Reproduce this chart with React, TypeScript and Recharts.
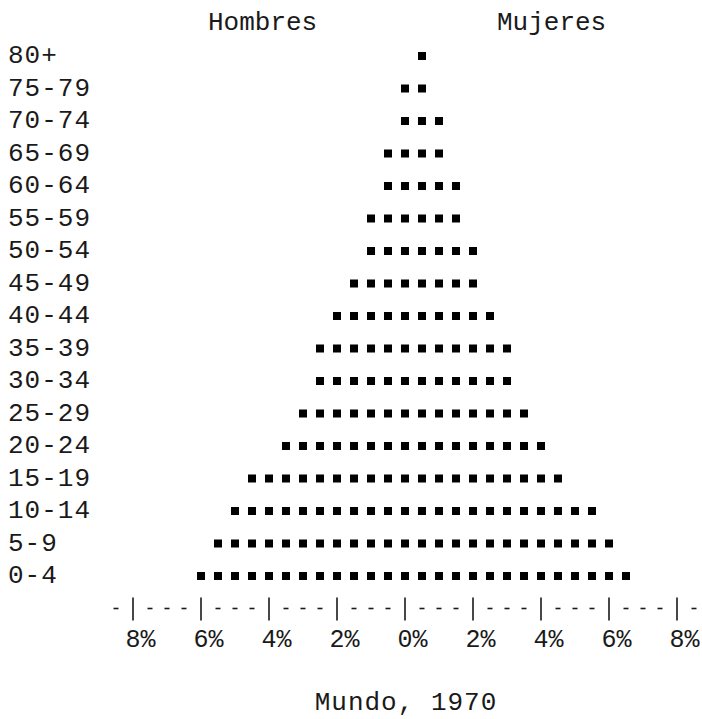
import { ScatterChart, Scatter, XAxis, YAxis } from "recharts";

// Pirámide de población, Mundo 1970 (% del total, cada cuadro = 0.5%)
const edades = [
  "0-4", "5-9", "10-14", "15-19", "20-24", "25-29", "30-34", "35-39", "40-44",
  "45-49", "50-54", "55-59", "60-64", "65-69", "70-74", "75-79", "80+",
];
const hombres = [6.5, 6.0, 5.5, 5.0, 4.0, 3.5, 3.0, 3.0, 2.5, 2.0, 1.5, 1.5, 1.0, 1.0, 0.5, 0.5, 0];
const mujeres = [6.5, 6.0, 5.5, 4.5, 4.0, 3.5, 3.0, 3.0, 2.5, 2.0, 2.0, 1.5, 1.5, 1.0, 1.0, 0.5, 0.5];
const marcasX = [-8, -6, -4, -2, 0, 2, 4, 6, 8];
const PASO = 0.5;

const FUENTE = "'Liberation Mono', 'Courier New', monospace";
const TINTA = "#1a1a1a";

// un cuadro por cada 0.5%: hombres desde la columna 0 hacia la izquierda, mujeres desde la 1 a la derecha
const puntosH = edades.flatMap((edad, i) =>
  Array.from({ length: Math.round(hombres[i] / PASO) }, (_, k) => ({ x: -k * PASO, y: i, edad }))
);
const puntosM = edades.flatMap((edad, i) =>
  Array.from({ length: Math.round(mujeres[i] / PASO) }, (_, k) => ({ x: (k + 1) * PASO, y: i, edad }))
);

// columnas del eje tipo máquina de escribir: "-|---|---|...|-"
const columnasEje = Array.from({ length: 35 }, (_, j) => -8.5 + j * PASO);

const Cuadro = (props: any) => {
  const { cx, cy } = props;
  if (cx == null || cy == null) return <g />;
  return <rect x={cx - 4} y={cy - 4} width={8} height={8} fill="#000" />;
};

const TickX = (props: any) => {
  const x = Number(props.x);
  const y = Number(props.y);
  const v = props.payload?.value;
  const mayor = marcasX.includes(v);
  return (
    <g>
      {mayor ? (
        <line x1={x} x2={x} y1={y - 11} y2={y + 12} stroke={TINTA} strokeWidth={1.6} />
      ) : (
        <line x1={x - 2.5} x2={x + 2.5} y1={y} y2={y} stroke={TINTA} strokeWidth={1.6} />
      )}
      {mayor && (
        <text x={x - 7.5} y={y + 38} fontFamily={FUENTE} fontSize={25} fill={TINTA}>
          {`${Math.abs(v)}%`}
        </text>
      )}
    </g>
  );
};

const TickY = (props: any) => {
  const y = Number(props.y);
  const i = props.payload?.value;
  return (
    <text x={8} y={y + 7} fontFamily={FUENTE} fontSize={26} letterSpacing={1} fill={TINTA}>
      {edades[i]}
    </text>
  );
};

export default function App() {
  return (
    <div style={{ position: "absolute", left: 0, top: 0, width: 702, height: 719, background: "#fff" }}>
      <ScatterChart width={702} height={719} margin={{ top: 23.5, right: 8, bottom: 0, left: 0 }}>
        <XAxis
          type="number"
          dataKey="x"
          domain={[-8.5, 8.5]}
          ticks={columnasEje}
          interval={0}
          height={110.5}
          axisLine={false}
          tickLine={false}
          tickSize={0}
          tickMargin={0}
          tick={TickX}
        />
        <YAxis
          type="number"
          dataKey="y"
          domain={[-1, 17]}
          ticks={edades.map((_, i) => i)}
          interval={0}
          width={116}
          axisLine={false}
          tickLine={false}
          tick={TickY}
        />
        <Scatter name="Hombres" data={puntosH} shape={Cuadro} isAnimationActive={false} />
        <Scatter name="Mujeres" data={puntosM} shape={Cuadro} isAnimationActive={false} />
      </ScatterChart>
      <svg
        width={702}
        height={719}
        style={{ position: "absolute", left: 0, top: 0, pointerEvents: "none" }}
      >
        <text x={208} y={30} fontFamily={FUENTE} fontSize={26} fill={TINTA}>
          Hombres
        </text>
        <text x={497} y={30} fontFamily={FUENTE} fontSize={26} fill={TINTA}>
          Mujeres
        </text>
        <text x={406} y={710} textAnchor="middle" fontFamily={FUENTE} fontSize={26} letterSpacing={1} fill={TINTA}>
          Mundo, 1970
        </text>
      </svg>
    </div>
  );
}
